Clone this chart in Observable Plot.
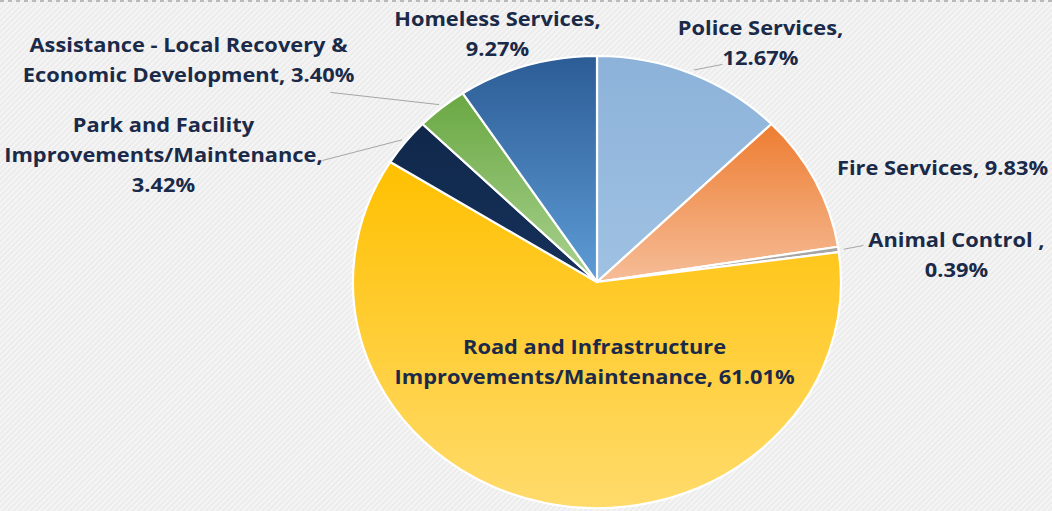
<!DOCTYPE html>
<html><head><meta charset="utf-8">
<script src="https://cdn.jsdelivr.net/npm/d3@7"></script>
<script src="https://cdn.jsdelivr.net/npm/@observablehq/plot@0.6"></script>
<style>html,body{margin:0;padding:0;background:#f0f0f0;overflow:hidden} svg{display:block}</style>
</head><body><div id="chart"></div>
<script>
// ---- data ----
const categories = ["Police Services", "Fire Services", "Animal Control ", "Road and Infrastructure Improvements/Maintenance", "Park and Facility Improvements/Maintenance", "Assistance - Local Recovery & Economic Development", "Homeless Services"];
const shares = [12.67, 9.83, 0.39, 61.01, 3.42, 3.40, 9.27];
const labelTemplates = ["Police Services,\n{p}", "Fire Services, {p}", "Animal Control ,\n{p}", "Road and Infrastructure\nImprovements/Maintenance, {p}", "Park and Facility\nImprovements/Maintenance,\n{p}", "Assistance - Local Recovery &\nEconomic Development, {p}", "Homeless Services,\n{p}"];

// ---- style / layout ----
const colorTop = ["#8DB2D9", "#ED7D31", "#A5A5A5", "#FFC000", "#10284A", "#6AA843", "#2C5C95"];
const colorBottom = ["#9FC2E3", "#F6BD98", "#A5A5A5", "#FFDB6C", "#15305A", "#AAD290", "#5E9CD6"];
// label centres in pie units (unit circle = pie)
const labelU = [0.668, 1.414, 1.471, -0.012, -1.779, -1.676, -0.410];
const labelV = [1.071, 0.517, 0.132, -0.341, 0.575, 0.995, 1.110];
// leader line label-side ends (null = no leader)
const leaderU = [0.512, null, 1.090, null, -1.127, -1.094, null];
const leaderV = [0.965, null, 0.164, null, 0.540, 0.841, null];
const textStretch = 1.12;

const W = 1052, H = 511;
const arcs = d3.pie().sort(null).value(d => d)(shares);
const rows = shares.map((s, i) => {
  const a = (arcs[i].startAngle + arcs[i].endAngle) / 2;
  return {
    cat: categories[i],
    label: labelTemplates[i].replace("{p}", s.toFixed(2) + "%"),
    lx: labelU[i], ly: labelV[i],
    px: 1.02 * Math.sin(a), py: 1.02 * Math.cos(a),
    qx: leaderU[i], qy: leaderV[i], i
  };
});

const ns = "http://www.w3.org/2000/svg";
function el(name, attrs, parent) {
  const e = document.createElementNS(ns, name);
  for (const k in attrs) e.setAttribute(k, attrs[k]);
  if (parent) parent.appendChild(e);
  return e;
}

function background(index, scales, values, dims) {
  const g = el("g", {});
  const defs = el("defs", {}, g);
  const pat = el("pattern", {id: "stripes", width: 4, height: 4, patternUnits: "userSpaceOnUse", patternTransform: "rotate(45)"}, defs);
  el("rect", {width: 4, height: 4, fill: "#ececec"}, pat);
  el("rect", {width: 1.6, height: 4, fill: "#f7f7f7"}, pat);
  el("rect", {x: 0, y: 0, width: dims.width, height: dims.height, fill: "url(#stripes)"}, g);
  el("line", {x1: 0, x2: dims.width, y1: 1, y2: 1, stroke: "#a8a8a8", "stroke-width": 1.5, "stroke-dasharray": "4,4"}, g);
  return g;
}

function pie(index, scales) {
  const cx = scales.x(0), cy = scales.y(0);
  const rx = scales.x(1) - cx, ry = cy - scales.y(1);
  const g = el("g", {});
  const defs = el("defs", {}, g);
  const gp = el("g", {transform: `translate(${cx},${cy}) scale(${rx},${ry})`}, g);
  const arc = d3.arc().innerRadius(0).outerRadius(1);
  arcs.forEach((a, i) => {
    const lg = el("linearGradient", {id: "grad" + i, x1: 0, y1: 0, x2: 0, y2: 1}, defs);
    el("stop", {offset: "0%", "stop-color": colorTop[i]}, lg);
    el("stop", {offset: "100%", "stop-color": colorBottom[i]}, lg);
    el("path", {d: arc(a), fill: `url(#grad${i})`, stroke: "#ffffff", "stroke-width": 2.2, "stroke-linejoin": "round", "vector-effect": "non-scaling-stroke"}, gp);
  });
  return g;
}

const chart = Plot.plot({
  width: W, height: H,
  margin: 0,
  style: {background: "none", overflow: "visible"},
  x: {domain: [-1, 1], range: [353, 841], axis: null},
  y: {domain: [-1, 1], range: [508, 56], axis: null},
  marks: [
    background,
    pie,
    Plot.link(rows.filter(d => d.qx != null), {x1: "px", y1: "py", x2: "qx", y2: "qy", stroke: "#a6a6a6", strokeWidth: 1}),
    Plot.text(rows, {
      x: "lx", y: "ly", text: "label", fontSize: 19.5, fontWeight: "bold", fontFamily: "Open Sans",
      fill: "#1b2a48", lineHeight: 1.54, textAnchor: "middle",
      render(index, scales, values, dims, context, next) {
        const g = next(index, scales, values, dims, context);
        g.querySelectorAll("text").forEach(t => {
          const tr = t.getAttribute("transform") || "";
          t.setAttribute("transform", tr + ` scale(${textStretch},1)`);
        });
        return g;
      }
    })
  ]
});
document.getElementById("chart").appendChild(chart);
</script>
</body></html>
